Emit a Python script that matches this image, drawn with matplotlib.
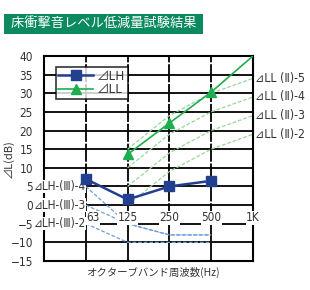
import matplotlib
matplotlib.use('Agg')
import matplotlib.pyplot as plt

plt.rcParams['font.family'] = ['Noto Sans CJK JP', 'DejaVu Sans']
narrow = ['DejaVu Sans', 'Noto Sans CJK JP']

# octave band positions (0 = left edge)
freq_labels = ['63', '125', '250', '500', '1K']
freq_pos = [1, 2, 3, 4, 5]

# measured results
lh_x = [1, 2, 3, 4]
lh_vals = [7, 1.5, 5, 6.5]
ll_x = [2, 3, 4, 5]
ll_vals = [13.6, 22, 30.3, 40]

# reference curves
ll_ref_x = [2, 3, 4, 5]
ll_ref = {
    '-5': [15, 24, 30, 34],
    '-4': [10, 19, 25, 29],
    '-3': [5, 14, 20, 24],
    '-2': [0, 9, 15, 19],
}
lh_ref_x = [1, 2, 3, 4]
lh_ref = {
    '-4': [5, -5, -8, -8],
    '-3': [0, -5, -8, -8],
    '-2': [-5, -10, -10, -10],
}

blue = '#233f8f'
green = '#1fae4f'
lgreen = '#9bd59b'
lblue = '#6f9fdc'
txt = '#333333'

fig = plt.figure(figsize=(3.1, 2.9), dpi=100)
ax = fig.add_axes([0.142, 0.10, 0.674, 0.707])

ax.set_xlim(0, 5)
ax.set_ylim(-15, 40)
ax.set_yticks(range(-15, 41, 5))
ax.set_yticklabels([str(v).replace('-', '\u2212') for v in range(-15, 41, 5)],
                   fontsize=8.5, color=txt, family=narrow, fontstretch='condensed')
ax.set_xticks([])
ax.tick_params(axis='y', length=0, pad=8)

for y in range(-10, 40, 5):
    ax.axhline(y, color='black', lw=1.3, zorder=1)
for x in freq_pos[:-1]:
    ax.axvline(x, color='black', lw=1.3, ls=(0, (10, 1)), zorder=1)
for s in ax.spines.values():
    s.set_linewidth(1.5)

# reference curves
for k, v in ll_ref.items():
    ax.plot(ll_ref_x, v, color=lgreen, lw=0.9, ls=(0, (3, 1.5)), zorder=2)
    ax.text(5.06, v[-1], '⊿LL (Ⅱ)' + k, fontsize=8.8, color=txt, va='center',
            ha='left', clip_on=False, family=narrow, fontstretch='condensed')
for k, v in lh_ref.items():
    ax.plot(lh_ref_x, v, color=lblue, lw=0.9, ls=(0, (3, 1.5)), zorder=2)
    ax.text(0.99, v[0], '⊿LH-(Ⅲ)-' + k.strip('-'), fontsize=8.5, color=txt,
            va='center', ha='right', clip_on=False, zorder=3, family=narrow,
            fontstretch='condensed',
            bbox=dict(facecolor='white', edgecolor='none', pad=0.2))

# frequency labels inside the axes
for x, lab in zip(freq_pos, freq_labels):
    dx = 0.18 if lab == '63' else 0
    ax.text(x + dx, -3.4, lab, fontsize=8.5, color=txt, ha='center', va='center',
            family=narrow, fontstretch='condensed', zorder=3,
            bbox=dict(facecolor='white', edgecolor='none', pad=0.3))

l1, = ax.plot(lh_x, lh_vals, color=blue, lw=1.8, marker='s', ms=7, zorder=4)
ax.plot(ll_x, ll_vals, color=green, lw=1.2, zorder=4)
ax.plot(ll_x[:-1], ll_vals[:-1], ls='none', color=green, marker='^', ms=7, zorder=5)
l2, = ax.plot([], [], color=green, lw=1.2, marker='^', ms=7)

leg = ax.legend([l1, l2], ['⊿LH', '⊿LL'], loc='upper left', bbox_to_anchor=(0.055, 0.945),
                fontsize=9, frameon=True, fancybox=False, edgecolor='black',
                handlelength=2.8, borderpad=0.2, labelspacing=0.05, handletextpad=0.3,
                borderaxespad=0)
leg.get_frame().set_linewidth(1.2)
for t in leg.get_texts():
    t.set_color(txt)

ax.set_ylabel('⊿L(dB)', fontsize=8, color=txt)
ax.yaxis.set_label_coords(-0.145, 0.5)
ax.set_xlabel('オクターブバンド周波数(Hz)', fontsize=7.5, color=txt)
ax.xaxis.set_label_coords(0.52, -0.03)

fig.text(0.025, 0.918, ' 床衝撃音レベル低減量試験結果 ', fontsize=9.5, color='white',
         va='center', ha='left',
         bbox=dict(facecolor='#0a8a5e', edgecolor='none', pad=2.6))

fig.savefig('out.png', dpi=100)
